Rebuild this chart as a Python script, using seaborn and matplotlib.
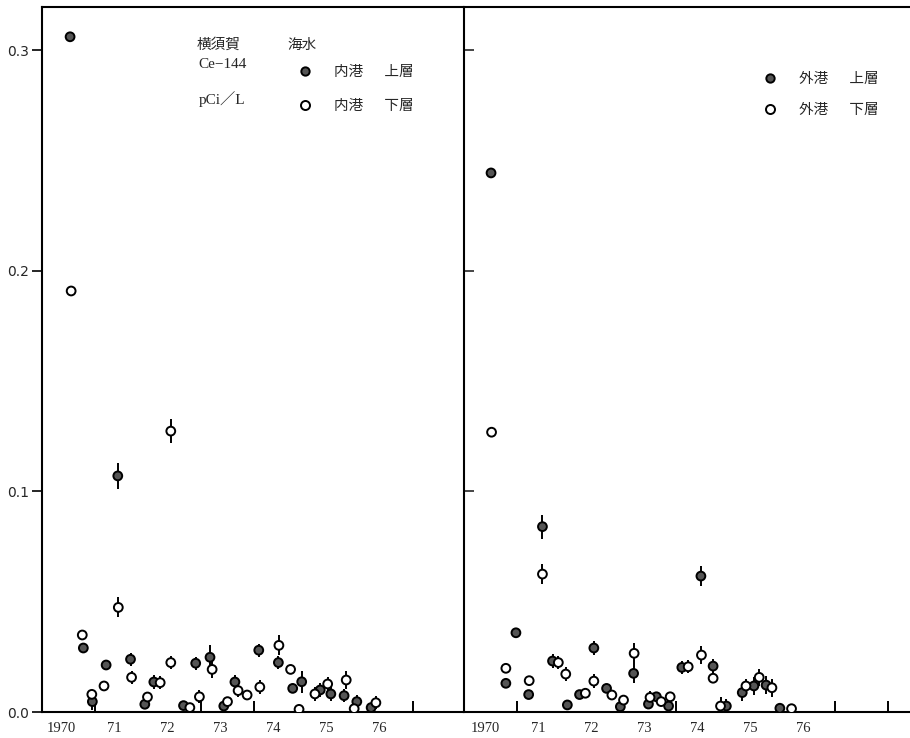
import matplotlib
matplotlib.use('Agg')
import matplotlib.pyplot as plt
from matplotlib.lines import Line2D
import pandas as pd
import seaborn as sns

# --- datos: 横須賀 海水 Ce-144 (pCi/L) ---
# 内港 上層
naiko_up_year = [1970.16, 1970.41, 1970.58, 1970.84, 1971.06, 1971.30, 1971.57, 1971.74,
                 1972.30, 1972.53, 1972.80, 1973.06, 1973.27, 1973.72, 1974.09, 1974.36,
                 1974.53, 1974.88, 1975.08, 1975.33, 1975.57, 1975.84]
naiko_up_val = [0.306, 0.029, 0.0047, 0.0213, 0.107, 0.0239, 0.0035, 0.0136,
                0.0029, 0.0221, 0.0248, 0.0027, 0.0136, 0.028, 0.0224, 0.0107,
                0.0137, 0.010, 0.0082, 0.0074, 0.0047, 0.002]
naiko_up_err = [0, 0, 0.004, 0.0015, 0.006, 0.003, 0.002, 0.003,
                0.001, 0.003, 0.0055, 0.001, 0.003, 0.003, 0.003, 0.001,
                0.005, 0.003, 0.003, 0.003, 0.003, 0.001]

# 内港 下層
naiko_lo_year = [1970.18, 1970.39, 1970.57, 1970.80, 1971.07, 1971.32, 1971.62, 1971.86,
                 1972.06, 1972.06, 1972.42, 1972.60, 1972.84, 1973.13, 1973.33, 1973.50,
                 1973.74, 1974.10, 1974.32, 1974.48, 1974.78, 1975.02, 1975.37, 1975.52,
                 1975.93]
naiko_lo_val = [0.1908, 0.0349, 0.008, 0.0118, 0.0474, 0.0157, 0.0068, 0.0133,
                0.1273, 0.0224, 0.002, 0.0069, 0.0193, 0.0047, 0.0097, 0.0077,
                0.0113, 0.0302, 0.0193, 0.0012, 0.0082, 0.0127, 0.0145, 0.0015,
                0.0042]
naiko_lo_err = [0, 0.001, 0.002, 0, 0.0045, 0.003, 0.002, 0.003,
                0.0055, 0.003, 0, 0.003, 0.004, 0.001, 0.003, 0.002,
                0.003, 0.0045, 0.002, 0.002, 0.003, 0.003, 0.004, 0.001,
                0.003]

# 外港 上層
gaiko_up_year = [1970.11, 1970.39, 1970.58, 1970.82, 1971.08, 1971.27, 1971.55, 1971.78,
                 1972.05, 1972.29, 1972.55, 1972.80, 1973.08, 1973.23, 1973.46, 1973.71,
                 1974.07, 1974.30, 1974.55, 1974.85, 1975.07, 1975.30, 1975.56]
gaiko_up_val = [0.2443, 0.013, 0.0359, 0.0079, 0.084, 0.0231, 0.0032, 0.0079,
                0.029, 0.0107, 0.0024, 0.0175, 0.0036, 0.0069, 0.0027, 0.0202,
                0.0616, 0.0208, 0.0027, 0.0088, 0.0118, 0.0122, 0.0017]
gaiko_up_err = [0, 0, 0, 0, 0.0055, 0.003, 0.001, 0.001,
                0.003, 0.002, 0.002, 0.0045, 0.002, 0.002, 0.002, 0.003,
                0.0045, 0.003, 0.003, 0.004, 0.004, 0.004, 0.002]

# 外港 下層
gaiko_lo_year = [1970.12, 1970.39, 1970.83, 1971.08, 1971.38, 1971.52, 1971.89, 1972.05,
                 1972.39, 1972.61, 1972.81, 1973.11, 1973.32, 1973.49, 1973.83, 1974.08,
                 1974.30, 1974.44, 1974.92, 1975.17, 1975.41, 1975.78]
gaiko_lo_val = [0.1268, 0.0198, 0.0142, 0.0625, 0.0224, 0.0172, 0.0085, 0.014,
                0.0077, 0.0054, 0.0266, 0.0066, 0.0047, 0.0069, 0.0205, 0.0258,
                0.0153, 0.0027, 0.0118, 0.0157, 0.011, 0.0015]
gaiko_lo_err = [0, 0, 0, 0.0045, 0.003, 0.003, 0, 0.003,
                0.002, 0.002, 0.0045, 0.003, 0.002, 0.002, 0.003, 0.004,
                0, 0.004, 0.003, 0.004, 0.004, 0.002]

year_ticks = [1970, 1971, 1972, 1973, 1974, 1975, 1976]
year_labels = ['1970', '71', '72', '73', '74', '75', '76']
y_ticks = [0.0, 0.1, 0.2, 0.3]
y_labels = ['0.0', '0.1', '0.2', '0.3']

sns.set_theme(style='white')
plt.rcParams['font.family'] = ['Noto Sans CJK JP', 'DejaVu Sans']

UP_COLOR = '#555555'


def armar_df(y_up, v_up, e_up, y_lo, v_lo, e_lo):
    up = pd.DataFrame({'year': y_up, 'val': v_up, 'err': e_up, 'layer': '上層'})
    lo = pd.DataFrame({'year': y_lo, 'val': v_lo, 'err': e_lo, 'layer': '下層'})
    return pd.concat([up, lo], ignore_index=True)


def dibujar_panel(ax, df, x0, x1):
    ax.errorbar(df['year'], df['val'], yerr=df['err'], fmt='none',
                ecolor='black', elinewidth=1.4, capsize=0, zorder=2)
    sns.scatterplot(data=df, x='year', y='val', hue='layer',
                    palette={'上層': UP_COLOR, '下層': 'white'},
                    edgecolor='black', linewidth=1.4, s=40,
                    legend=False, ax=ax, zorder=3)
    ax.set_xlim(x0, x1)
    ax.set_ylim(0, 0.3195)
    ax.set_xlabel('')
    ax.set_ylabel('')
    ax.set_xticks(year_ticks, labels=year_labels, fontfamily='Liberation Serif', fontsize=10.5)
    ax.tick_params(axis='x', which='major', length=0, pad=7)
    # marcas internas sueltas en el eje x
    ax.tick_params(axis='x', which='minor', direction='in', length=8, width=1.4,
                   bottom=True, color='black')
    for s in ax.spines.values():
        s.set_color('black')
        s.set_linewidth(1.5)


fig = plt.figure(figsize=(9.1, 7.38), dpi=100)
ax1 = fig.add_axes([42 / 910, 26 / 738, 421 / 910, 705 / 738])
ax2 = fig.add_axes([464 / 910, 26 / 738, 446 / 910, 705 / 738])

df_naiko = armar_df(naiko_up_year, naiko_up_val, naiko_up_err,
                    naiko_lo_year, naiko_lo_val, naiko_lo_err)
df_gaiko = armar_df(gaiko_up_year, gaiko_up_val, gaiko_up_err,
                    gaiko_lo_year, gaiko_lo_val, gaiko_lo_err)

x0_l = 1969.63
x0_r = 1969.60
dibujar_panel(ax1, df_naiko, x0_l, x0_l + 421 / 53)
dibujar_panel(ax2, df_gaiko, x0_r, x0_r + 446 / 53)

ax1.set_xticks([x0_l + 1, x0_l + 3, x0_l + 4, x0_l + 7], minor=True)
ax2.set_xticks([x0_r + 1, x0_r + 4, x0_r + 7, x0_r + 8], minor=True)

# eje y
ax1.set_yticks(y_ticks, labels=y_labels, fontfamily='DejaVu Sans', fontsize=10)
ax1.tick_params(axis='y', direction='out', length=7, width=1.4, left=True, pad=2)
ax1.spines['right'].set_visible(False)

ax2.set_yticks(y_ticks)
ax2.tick_params(axis='y', direction='in', length=7, width=1.2, left=True, labelleft=False)
ax2.spines['right'].set_visible(False)

# textos del panel izquierdo
ax1.text(0.368, 0.946, '横須賀', transform=ax1.transAxes, fontsize=10.5, va='center')
ax1.text(0.582, 0.946, '海水', transform=ax1.transAxes, fontsize=10.5, va='center')
ax1.text(0.372, 0.918, 'Ce−144', transform=ax1.transAxes, fontsize=11, va='center',
         family=['Liberation Serif', 'Noto Sans CJK JP'])
ax1.text(0.372, 0.870, 'pCi／L', transform=ax1.transAxes, fontsize=11, va='center',
         family=['Liberation Serif', 'Noto Sans CJK JP'])

gap = '\u3000  '
h_up = Line2D([], [], marker='o', ls='', mfc=UP_COLOR, mec='black', mew=1.4, ms=6)
h_lo = Line2D([], [], marker='o', ls='', mfc='white', mec='black', mew=1.4, ms=6.5)

ax1.legend([h_up, h_lo], ['内港' + gap + '上層', '内港' + gap + '下層'],
           loc='upper left', bbox_to_anchor=(0.608, 0.918), frameon=False,
           fontsize=10.5, handlelength=1.0, handletextpad=1.5, labelspacing=1.4,
           borderpad=0, borderaxespad=0)
ax2.legend([h_up, h_lo], ['外港' + gap + '上層', '外港' + gap + '下層'],
           loc='upper left', bbox_to_anchor=(0.670, 0.908), frameon=False,
           fontsize=10.5, handlelength=1.0, handletextpad=1.5, labelspacing=1.2,
           borderpad=0, borderaxespad=0)

fig.savefig('out.png', dpi=100)
